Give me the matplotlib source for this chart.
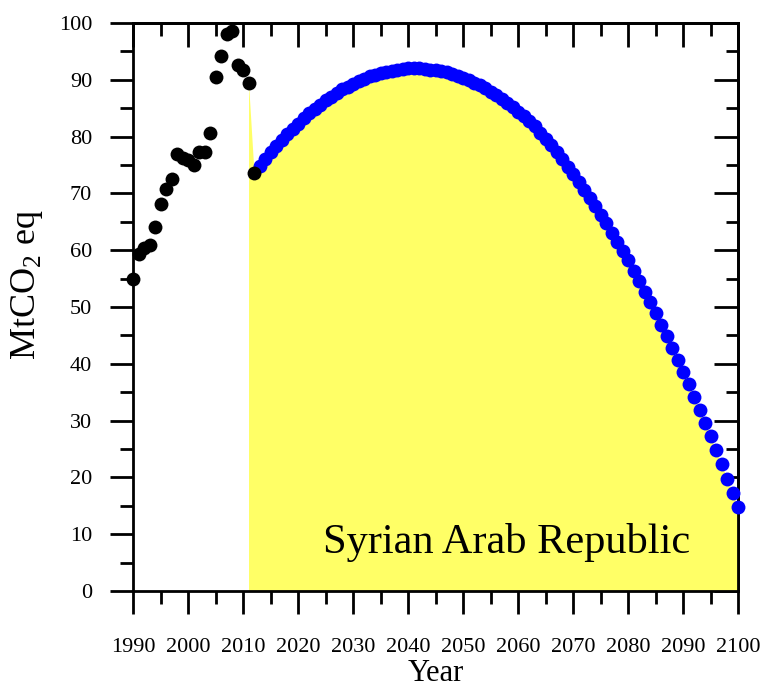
import matplotlib
matplotlib.use('Agg')
import matplotlib.pyplot as plt
from matplotlib.ticker import MultipleLocator

plt.rcParams['font.family'] = ['Liberation Serif', 'DejaVu Serif']

# historical emissions (black dots)
hist_years = list(range(1990, 2013))
hist_vals = [55.0, 59.3, 60.3, 60.9, 64.1, 68.1, 70.7, 72.5, 76.9, 76.2,
             75.9, 75.0, 77.2, 77.2, 80.7, 90.5, 94.2, 98.1, 98.5, 92.6,
             91.8, 89.5, 73.6]

# projection (blue dots)
proj_years = list(range(2013, 2101))
proj_vals = [74.9, 76.1, 77.2, 78.3, 79.4, 80.4, 81.4, 82.3, 83.2, 84.1,
             84.9, 85.6, 86.4, 87.0, 87.7, 88.3, 88.8, 89.3, 89.8, 90.2,
             90.6, 90.9, 91.2, 91.4, 91.6, 91.8, 91.9, 92.0, 92.0, 92.0,
             91.9, 91.8, 91.7, 91.5, 91.3, 91.0, 90.7, 90.3, 89.9, 89.5,
             89.0, 88.5, 87.9, 87.3, 86.6, 85.9, 85.2, 84.4, 83.6, 82.7,
             81.8, 80.7, 79.6, 78.5, 77.3, 76.0, 74.7, 73.4, 72.0, 70.6,
             69.2, 67.7, 66.2, 64.7, 63.1, 61.5, 59.9, 58.2, 56.4, 54.6,
             52.7, 50.8, 48.9, 46.9, 44.9, 42.8, 40.7, 38.6, 36.4, 34.2,
             31.9, 29.6, 27.2, 24.8, 22.3, 19.8, 17.3, 14.7]

country = 'Syrian Arab Republic'

fig = plt.figure(figsize=(7.61, 6.88), dpi=100)
ax = fig.add_axes([0.1748, 0.1410, 0.7950, 0.8256])

# yellow area under projection, starting from last historical year
fill_x = hist_years[-2:] + proj_years
fill_y = hist_vals[-2:] + proj_vals
ax.fill_between(fill_x, 0, fill_y, color='#ffff66', lw=0, zorder=1)

ax.plot(proj_years, proj_vals, 'o', color='#0000ff', ms=10, mew=0,
        zorder=3, clip_on=False)
ax.plot(hist_years, hist_vals, 'o', color='black', ms=10, mew=0,
        zorder=4, clip_on=False)

ax.set_xlim(1990, 2100)
ax.set_ylim(0, 100)
ax.xaxis.set_major_locator(MultipleLocator(10))
ax.xaxis.set_minor_locator(MultipleLocator(5))
ax.yaxis.set_major_locator(MultipleLocator(10))
ax.yaxis.set_minor_locator(MultipleLocator(5))

for s in ax.spines.values():
    s.set_linewidth(2)
ax.tick_params(which='major', direction='out', length=16.5, width=2,
               labelsize=16)
ax.tick_params(which='minor', direction='out', length=9.5, width=2)
ax.tick_params(axis='x', which='major', pad=17)
ax.tick_params(axis='y', which='major', pad=13)

# inward ticks on top and right
top = ax.secondary_xaxis('top')
top.xaxis.set_major_locator(MultipleLocator(10))
top.xaxis.set_minor_locator(MultipleLocator(5))
top.tick_params(which='major', direction='in', length=17, width=2,
                labeltop=False)
top.tick_params(which='minor', direction='in', length=9, width=2)
top.spines['top'].set_linewidth(2)

right = ax.secondary_yaxis('right')
right.yaxis.set_major_locator(MultipleLocator(10))
right.yaxis.set_minor_locator(MultipleLocator(5))
right.tick_params(which='major', direction='in', length=17, width=2,
                  labelright=False)
right.tick_params(which='minor', direction='in', length=9, width=2)
right.spines['right'].set_linewidth(2)

ax.set_xlabel('Year', fontsize=22, labelpad=1.5)
ax.set_ylabel(r'MtCO$_\mathregular{2}$ eq', fontsize=26)
ax.yaxis.set_label_coords(-0.145, 0.54)

ax.text(0.921, 0.067, country, transform=ax.transAxes, fontsize=30.5,
        ha='right', va='baseline', zorder=5)

fig.savefig('out.png', dpi=100)
